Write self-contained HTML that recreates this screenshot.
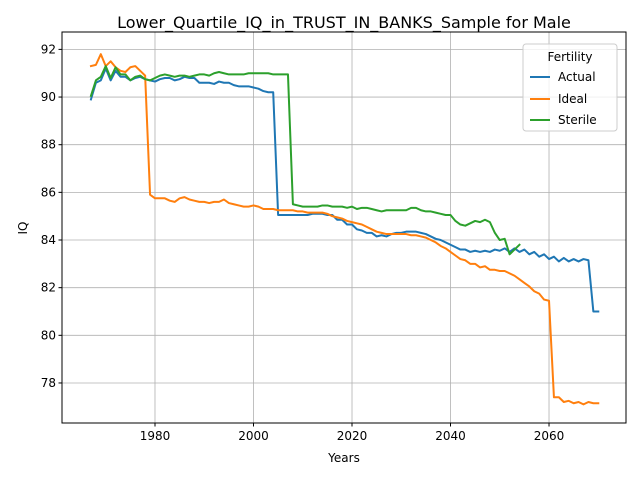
<!DOCTYPE html>
<html><head><meta charset="utf-8"><style>
body{margin:0;background:#fff;font-family:"Liberation Sans","DejaVu Sans",sans-serif}
svg text{font-family:"DejaVu Sans","Liberation Sans",sans-serif}
</style></head><body>
<svg id="chart" width="640" height="480" viewBox="0 0 640 480" xmlns="http://www.w3.org/2000/svg">
<rect width="640" height="480" fill="#fff"/>
<g id="grid"></g>
<g id="series"></g>
<rect x="62" y="32" width="564" height="391" fill="none" stroke="#000" stroke-width="1"/>
<g id="ticks"></g>
<text x="344" y="28" text-anchor="middle" font-size="16">Lower_Quartile_IQ_in_TRUST_IN_BANKS_Sample for Male</text>
<text x="344" y="462" text-anchor="middle" font-size="12">Years</text>
<text x="27" y="228" text-anchor="middle" font-size="12" transform="rotate(-90 27 228)">IQ</text>
<g>
<rect x="523" y="44" width="94" height="87" rx="3" fill="#fff" fill-opacity="0.8" stroke="#ccc"/>
<text x="570" y="61" text-anchor="middle" font-size="12">Fertility</text>
<g><line x1="530" y1="77" x2="550" y2="77" stroke="#1f77b4" stroke-width="2"/><text x="558" y="81" font-size="12">Actual</text></g>
<g><line x1="530" y1="99" x2="550" y2="99" stroke="#ff7f0e" stroke-width="2"/><text x="558" y="103" font-size="12">Ideal</text></g>
<g><line x1="530" y1="120" x2="550" y2="120" stroke="#2ca02c" stroke-width="2"/><text x="558" y="124" font-size="12">Sterile</text></g>
</g>
</svg>
<script>
const startYear = 1967;
const actual = [89.9,90.6,90.7,91.2,90.7,91.1,90.85,90.85,90.7,90.8,90.85,90.75,90.7,90.65,90.75,90.8,90.8,90.7,90.75,90.85,90.8,90.8,90.6,90.6,90.6,90.55,90.65,90.6,90.6,90.5,90.45,90.45,90.45,90.4,90.35,90.25,90.2,90.2,85.05,85.05,85.05,85.05,85.05,85.05,85.05,85.1,85.1,85.1,85.05,85.05,84.85,84.85,84.65,84.65,84.45,84.4,84.3,84.3,84.15,84.2,84.15,84.25,84.3,84.3,84.35,84.35,84.35,84.3,84.25,84.15,84.05,84.0,83.9,83.8,83.7,83.6,83.6,83.5,83.55,83.5,83.55,83.5,83.6,83.55,83.65,83.5,83.65,83.5,83.6,83.4,83.5,83.3,83.4,83.2,83.3,83.1,83.25,83.1,83.2,83.1,83.2,83.15,81.0,81.0];
const ideal = [91.3,91.35,91.8,91.3,91.5,91.25,91.1,91.05,91.25,91.3,91.1,90.9,85.9,85.75,85.75,85.75,85.65,85.6,85.75,85.8,85.7,85.65,85.6,85.6,85.55,85.6,85.6,85.7,85.55,85.5,85.45,85.4,85.4,85.45,85.4,85.3,85.3,85.3,85.25,85.25,85.25,85.25,85.2,85.2,85.15,85.15,85.15,85.15,85.1,85.0,84.95,84.9,84.8,84.75,84.7,84.65,84.55,84.45,84.35,84.3,84.25,84.25,84.25,84.25,84.25,84.2,84.2,84.15,84.1,84.0,83.9,83.75,83.65,83.5,83.35,83.2,83.15,83.0,83.0,82.85,82.9,82.75,82.75,82.7,82.7,82.6,82.5,82.35,82.2,82.05,81.85,81.75,81.5,81.45,77.4,77.4,77.2,77.25,77.15,77.2,77.1,77.2,77.15,77.15];
const sterile = [90.05,90.7,90.85,91.3,90.8,91.25,90.95,90.95,90.7,90.85,90.9,90.75,90.7,90.8,90.9,90.95,90.9,90.85,90.9,90.9,90.85,90.9,90.95,90.95,90.9,91.0,91.05,91.0,90.95,90.95,90.95,90.95,91.0,91.0,91.0,91.0,91.0,90.95,90.95,90.95,90.95,85.5,85.45,85.4,85.4,85.4,85.4,85.45,85.45,85.4,85.4,85.4,85.35,85.4,85.3,85.35,85.35,85.3,85.25,85.2,85.25,85.25,85.25,85.25,85.25,85.35,85.35,85.25,85.2,85.2,85.15,85.1,85.05,85.05,84.8,84.65,84.6,84.7,84.8,84.75,84.85,84.75,84.3,84.0,84.05,83.4,83.6,83.8];
const xTicks = [1980,2000,2020,2040,2060];
const yTicks = [78,80,82,84,86,88,90,92];

const L=62,R=626,T=32,B=423, X0=1961.12,X1=2075.63, Y0=76.32,Y1=92.73;
const xs=v=>L+(v-X0)/(X1-X0)*(R-L);
const ys=v=>B-(v-Y0)/(Y1-Y0)*(B-T);
const NS='http://www.w3.org/2000/svg';
function mk(tag,attrs,parent){const e=document.createElementNS(NS,tag);for(const k in attrs)e.setAttribute(k,attrs[k]);parent.appendChild(e);return e;}
const grid=document.getElementById('grid'),ticks=document.getElementById('ticks'),series=document.getElementById('series');
xTicks.forEach(t=>{const x=xs(t);
 const g=mk('line',{x1:x,x2:x,y1:T,y2:B,stroke:'#b0b0b0','stroke-width':0.8},grid);
 
 
 mk('line',{x1:x,x2:x,y1:B,y2:B+3.5,stroke:'#000'},ticks);
 const tx=mk('text',{x:x,y:B+17,'text-anchor':'middle','font-size':12},ticks);tx.textContent=t;
 
 
});
yTicks.forEach(t=>{const y=ys(t);
 const g=mk('line',{x1:L,x2:R,y1:y,y2:y,stroke:'#b0b0b0','stroke-width':0.8},grid);
 
 
 mk('line',{x1:L-3.5,x2:L,y1:y,y2:y,stroke:'#000'},ticks);
 const tx=mk('text',{x:L-6,y:y+4,'text-anchor':'end','font-size':12},ticks);tx.textContent=t;
 
 
});
[[actual,'#1f77b4','actual-line'],[ideal,'#ff7f0e','ideal-line'],[sterile,'#2ca02c','sterile-line']].forEach(([d,c,n])=>{
 const pts=d.map((v,i)=>xs(startYear+i).toFixed(2)+','+ys(v).toFixed(2)).join(' ');
 const p=mk('polyline',{points:pts,fill:'none',stroke:c,'stroke-width':2,'stroke-linejoin':'round','stroke-linecap':'square'},series);
 
 
});
</script>
</body></html>
